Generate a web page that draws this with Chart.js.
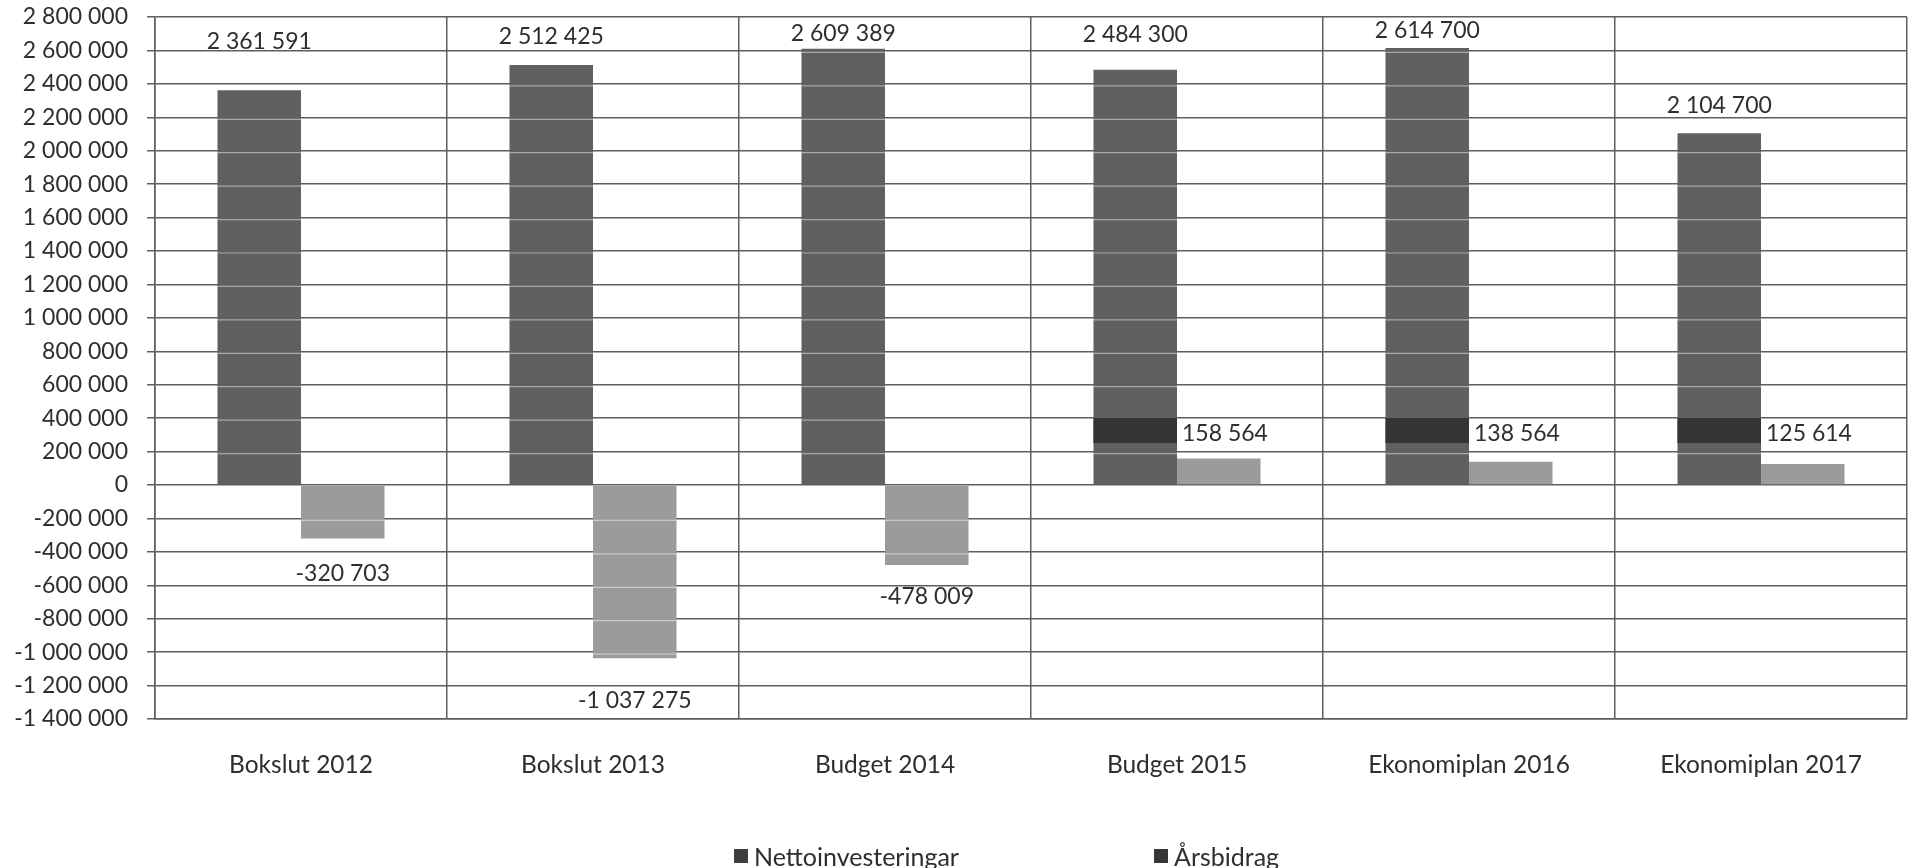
<!DOCTYPE html>
<html>
<head>
<meta charset="utf-8">
<title>Nettoinvesteringar och årsbidrag</title>
<script src="https://cdn.jsdelivr.net/npm/chart.js@4.4.1/dist/chart.umd.min.js"></script>
<style>
  html, body { margin:0; padding:0; background:#fff; }
  #wrap { position:relative; width:1909px; height:868px; overflow:hidden; }
  #legend { position:absolute; left:0; top:842px; width:1909px; height:28px; font:25px Lato, sans-serif; color:#2e2e2e; }
  .lg { position:absolute; top:0; display:flex; align-items:center; height:28px; white-space:nowrap; }
  .lg i { display:inline-block; width:14px; height:14px; margin-right:6px; }
</style>
</head>
<body>
<div id="wrap">
  <canvas id="chart" width="1909" height="868"></canvas>
  <div id="legend"></div>
</div>
<script>
// values
const categories = ['Bokslut 2012', 'Bokslut 2013', 'Budget 2014', 'Budget 2015', 'Ekonomiplan 2016', 'Ekonomiplan 2017'];
const nettoinvesteringar = [2361591, 2512425, 2609389, 2484300, 2614700, 2104700];
const arsbidrag = [-320703, -1037275, -478009, 158564, 138564, 125614];
const seriesNames = ['Nettoinvesteringar', 'Årsbidrag'];

const Y_MIN = -1400000, Y_MAX = 2800000, Y_STEP = 200000;

// look
const DARK = '#606060', LIGHT = '#9b9b9b', GRID = '#5e5e5e', TEXT = '#2e2e2e';
const FONT = { family:'Lato, sans-serif', size:23 };
const CAT_FONT = { family:'Lato, sans-serif', size:24.5 };
// label lift above the bar top (px), they were placed by hand in the original
const liftTop = [49, 28, 15, 35, 17, 28];
const dropNeg = [35, 42, 32];

function fmt(v){
  const s = Math.abs(v).toString().replace(/\B(?=(\d{3})+(?!\d))/g, ' ');
  return (v < 0 ? '-' : '') + s;
}

// light streaks where the grid crosses the bars (as in the scan)
const barStreaks = {
  id:'barStreaks',
  afterDatasetsDraw(chart){
    const {ctx} = chart, y = chart.scales.y;
    ctx.save();
    ctx.strokeStyle = 'rgba(255,255,255,0.45)';
    ctx.lineWidth = 1.2;
    chart.data.datasets.forEach((ds, di) => {
      chart.getDatasetMeta(di).data.forEach(bar => {
        const top = Math.min(bar.y, bar.base), bot = Math.max(bar.y, bar.base);
        for(let v = Y_MIN; v <= Y_MAX; v += Y_STEP){
          if(v === 0) continue;
          const py = y.getPixelForValue(v) + 2;
          if(py > top + 3 && py < bot - 3){
            ctx.beginPath();
            ctx.moveTo(bar.x - bar.width/2, py);
            ctx.lineTo(bar.x + bar.width/2, py);
            ctx.stroke();
          }
        }
      });
    });
    ctx.restore();
  }
};

const valueLabels = {
  id:'valueLabels',
  afterDatasetsDraw(chart){
    const {ctx} = chart;
    const zero = chart.scales.y.getPixelForValue(0);
    const m0 = chart.getDatasetMeta(0).data, m1 = chart.getDatasetMeta(1).data;
    ctx.save();
    ctx.font = FONT.size + 'px ' + FONT.family;
    ctx.fillStyle = TEXT;
    ctx.textBaseline = 'middle';
    // Nettoinvesteringar: centred above the bar
    ctx.textAlign = 'center';
    m0.forEach((bar, i) => ctx.fillText(fmt(nettoinvesteringar[i]), bar.x, bar.y - liftTop[i]));
    // Årsbidrag
    let n = 0;
    m1.forEach((bar, i) => {
      const v = arsbidrag[i];
      if(v < 0){
        ctx.textAlign = 'center';
        ctx.fillText(fmt(v), bar.x, bar.y + dropNeg[n++]);
      } else {
        // small positive values: label sits beside the dark bar, on a black box
        const dark = m0[i];
        const ly = zero - 51;
        ctx.fillStyle = '#343434';
        ctx.fillRect(dark.x - dark.width/2, zero - 67, dark.width, 25);
        ctx.fillStyle = TEXT;
        ctx.textAlign = 'left';
        ctx.fillText(fmt(v), dark.x + dark.width/2 + 5, ly);
      }
    });
    ctx.restore();
  }
};

const chart = new Chart(document.getElementById('chart'), {
  type:'bar',
  data:{
    labels: categories,
    datasets:[
      { label: seriesNames[0], data: nettoinvesteringar, backgroundColor: DARK },
      { label: seriesNames[1], data: arsbidrag, backgroundColor: LIGHT }
    ]
  },
  options:{
    responsive:false,
    animation:false,
    categoryPercentage:0.572,
    barPercentage:1.0,
    layout:{ padding:{ top:17, right:2, left:0, bottom:0 } },
    plugins:{ legend:{ display:false }, tooltip:{ enabled:false } },
    scales:{
      x:{
        grid:{ color:GRID, lineWidth:1.5, drawTicks:false, offset:true },
        border:{ color:GRID, width:1.5 },
        ticks:{ font:CAT_FONT, color:TEXT, padding:31 },
        afterFit(s){ s.height = 149; }
      },
      y:{
        min:Y_MIN, max:Y_MAX,
        grid:{ color:GRID, lineWidth:1.5, tickLength:8 },
        border:{ color:GRID, width:1.5 },
        ticks:{ stepSize:Y_STEP, font:FONT, color:TEXT, padding:19, callback: v => fmt(v) },
        afterFit(s){ s.width = 155; s.paddingTop = 12; s.paddingBottom = 12; }
      }
    }
  },
  plugins:[barStreaks, valueLabels]
});

// legend below the chart
const legendPos = [734, 1154];
const legendCol = ['#3e3e3e', '#363636'];
const lg = document.getElementById('legend');
seriesNames.forEach((name, i) => {
  const d = document.createElement('div');
  d.className = 'lg';
  d.style.left = legendPos[i] + 'px';
  d.innerHTML = '<i style="background:' + legendCol[i] + '"></i>' + name;
  lg.appendChild(d);
});
</script>
</body>
</html>
